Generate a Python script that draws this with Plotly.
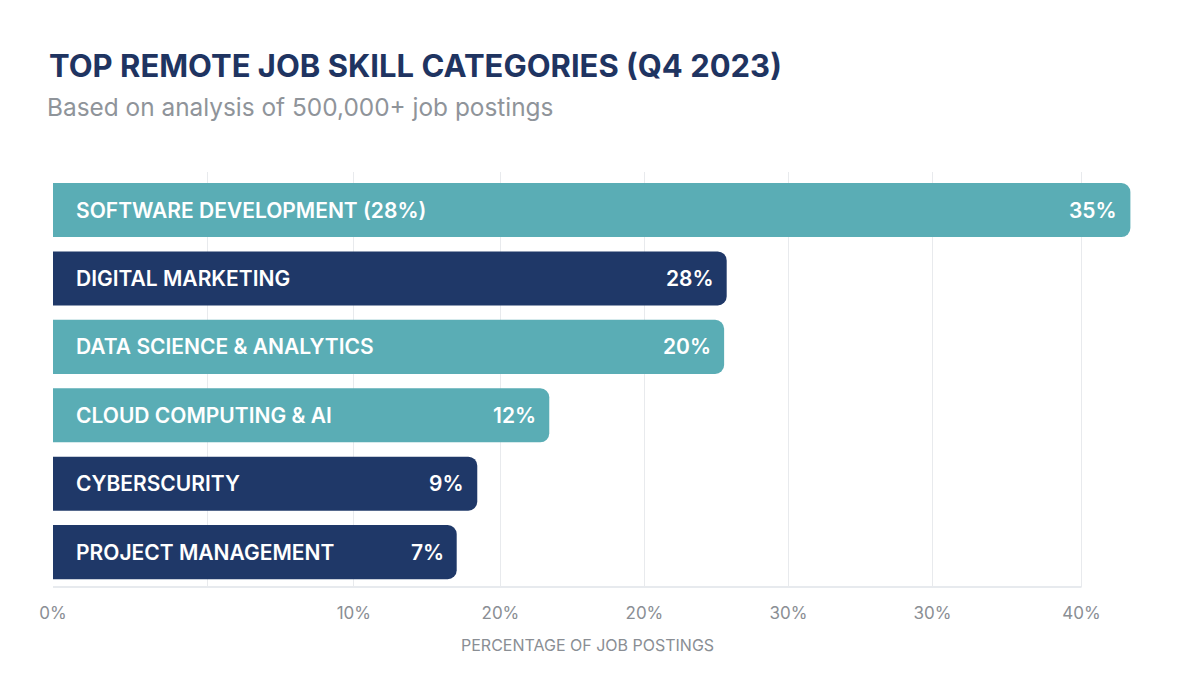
import plotly.graph_objects as go

# ---- data ----
categories = [
    "SOFTWARE DEVELOPMENT (28%)",
    "DIGITAL MARKETING",
    "DATA SCIENCE & ANALYTICS",
    "CLOUD COMPUTING & AI",
    "CYBERSCURITY",
    "PROJECT MANAGEMENT",
]
# bar lengths as drawn, in axis units (0 .. 40 = 0% .. 40% axis end)
bar_lengths = [41.9, 26.2, 26.1, 19.3, 16.5, 15.7]
value_labels = ["35%", "28%", "20%", "12%", "9%", "7%"]
bar_colors = ["#5aadb5", "#1f3868", "#5aadb5", "#5aadb5", "#1f3868", "#1f3868"]

# gridline / tick positions as drawn (axis units) and their labels
tick_vals = [0, 6.0, 11.7, 17.4, 23.0, 28.6, 34.2, 40]
tick_labels = ["0%", "", "10%", "20%", "20%", "30%", "30%", "40%"]
axis_max = 40

FONT = "Inter, Roboto, Noto Sans, sans-serif"

y_pos = list(range(len(categories)))

fig = go.Figure()
fig.add_trace(go.Bar(
    x=bar_lengths,
    y=y_pos,
    orientation="h",
    marker=dict(color=bar_colors, line=dict(width=0)),
    width=0.79,
    hoverinfo="skip",
))

annotations = []
for yi, name, length, lab in zip(y_pos, categories, bar_lengths, value_labels):
    annotations.append(dict(
        x=0, y=yi, xref="x", yref="y", text=name, showarrow=False,
        xanchor="left", yanchor="middle", xshift=21,
        font=dict(family=FONT, size=21, color="white", weight=600),
    ))
    annotations.append(dict(
        x=length, y=yi, xref="x", yref="y", text=lab, showarrow=False,
        xanchor="right", yanchor="middle", xshift=-11,
        font=dict(family=FONT, size=21, color="white", weight=600),
    ))

fig.update_layout(
    width=1200, height=685,
    margin=dict(l=53, r=44.5, t=172, b=98),
    paper_bgcolor="white", plot_bgcolor="white",
    showlegend=False,
    barcornerradius=9,
    xaxis=dict(
        range=[0, axis_max * 7.5 / 7],
        tickmode="array", tickvals=tick_vals, ticktext=tick_labels,
        showgrid=True, gridcolor="#e8eaed", gridwidth=1,
        zeroline=False, showline=False, ticks="",
        tickfont=dict(family=FONT, size=17, color="#8a8e94"),
        ticklabelstandoff=14,
        fixedrange=True,
    ),
    yaxis=dict(
        range=[5.51, -0.556],
        showticklabels=False, showgrid=False, zeroline=False, showline=False,
        fixedrange=True,
    ),
    annotations=annotations,
    shapes=[dict(
        type="line", xref="x", yref="paper", x0=0, x1=axis_max, y0=0, y1=0,
        line=dict(color="#dfe3e8", width=1.5), layer="below",
    )],
)

# titles as paper-positioned annotations (pixel-accurate)
H = 685.0
W = 1200.0
def px_to_paper(xp, yp):
    pw = W - 53 - 44.5
    ph = H - 172 - 98
    return (xp - 53) / pw, (H - 98 - yp) / ph

tx, ty = px_to_paper(47, 65)
fig.add_annotation(
    x=tx, y=ty, xref="paper", yref="paper", showarrow=False,
    xanchor="left", yanchor="middle",
    text="TOP REMOTE JOB SKILL CATEGORIES (Q4 2023)",
    font=dict(family=FONT, size=31, color="#1f3461", weight="bold"),
)
sx, sy = px_to_paper(45, 107)
fig.add_annotation(
    x=sx, y=sy, xref="paper", yref="paper", showarrow=False,
    xanchor="left", yanchor="middle",
    text="Based on analysis of 500,000+ job postings",
    font=dict(family=FONT, size=24.4, color="#8f949a"),
)
ax, ay = px_to_paper(588, 645)
fig.add_annotation(
    x=ax, y=ay, xref="paper", yref="paper", showarrow=False,
    xanchor="center", yanchor="middle",
    text="PERCENTAGE OF JOB POSTINGS",
    font=dict(family=FONT, size=16, color="#8a8e94"),
)

fig.write_html("out.html")
